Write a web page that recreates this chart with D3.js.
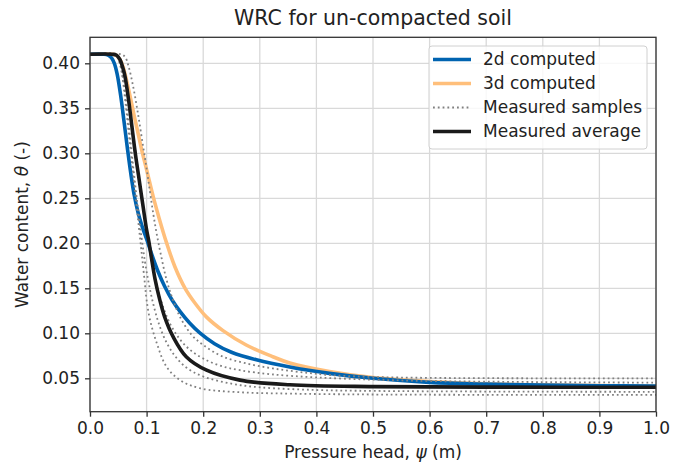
<!DOCTYPE html>
<html><head><meta charset="utf-8">
<script src="https://cdn.jsdelivr.net/npm/d3@7"></script>
<style>
body{margin:0;background:#fff;}
svg{display:block;font-family:"DejaVu Sans",sans-serif;}
</style></head>
<body><svg id="c" width="681" height="465"></svg>
<script>
// ---- data ----
const xTicks = [0.0,0.1,0.2,0.3,0.4,0.5,0.6,0.7,0.8,0.9,1.0];
const yTicks = [0.05,0.10,0.15,0.20,0.25,0.30,0.35,0.40];

const computed2d = [[0,0.41],[0.025,0.41],[0.032,0.409],[0.038,0.406],[0.043,0.400],[0.048,0.388],[0.054,0.365],[0.060,0.336],[0.066,0.306],[0.072,0.278],[0.078,0.254],[0.085,0.234],[0.093,0.217],[0.101,0.203],[0.11,0.186],[0.12,0.169],[0.132,0.152],[0.145,0.137],[0.16,0.1235],[0.176,0.1115],[0.194,0.1005],[0.22,0.0885],[0.25,0.079],[0.294,0.0705],[0.353,0.0625],[0.423,0.0555],[0.5,0.050],[0.6,0.0455],[0.7,0.0435],[0.8,0.0424],[0.9,0.0418],[1.0,0.0413]];

const computed3d = [[0,0.41],[0.04,0.41],[0.046,0.409],[0.052,0.405],[0.058,0.397],[0.065,0.38],[0.072,0.36],[0.078,0.342],[0.085,0.322],[0.092,0.302],[0.098,0.287],[0.103,0.274],[0.112,0.251],[0.123,0.226],[0.135,0.201],[0.15,0.174],[0.168,0.15],[0.185,0.134],[0.206,0.118],[0.235,0.103],[0.276,0.087],[0.323,0.074],[0.353,0.067],[0.423,0.0575],[0.5,0.0508],[0.6,0.0465],[0.7,0.044],[0.8,0.0427],[0.9,0.042],[1.0,0.0415]];

const sample1 = [[0,0.41],[0.045,0.41],[0.05,0.405],[0.056,0.39],[0.062,0.36],[0.068,0.325],[0.074,0.29],[0.08,0.255],[0.086,0.22],[0.092,0.185],[0.097,0.155],[0.1,0.137],[0.106,0.115],[0.118,0.089],[0.135,0.063],[0.159,0.048],[0.194,0.039],[0.265,0.0345],[0.353,0.033],[0.5,0.032],[1.0,0.0315]];
const sample2 = [[0,0.41],[0.042,0.41],[0.049,0.406],[0.055,0.395],[0.061,0.372],[0.067,0.34],[0.073,0.305],[0.079,0.27],[0.085,0.237],[0.091,0.207],[0.097,0.18],[0.104,0.155],[0.112,0.132],[0.122,0.11],[0.135,0.09],[0.15,0.075],[0.17,0.062],[0.2,0.052],[0.25,0.044],[0.3,0.04],[0.4,0.037],[0.5,0.036],[0.7,0.0353],[1.0,0.035]];
const sample3 = [[0,0.41],[0.045,0.41],[0.052,0.406],[0.058,0.395],[0.064,0.375],[0.07,0.35],[0.077,0.318],[0.084,0.285],[0.091,0.252],[0.098,0.222],[0.105,0.195],[0.112,0.17],[0.12,0.148],[0.13,0.128],[0.142,0.11],[0.158,0.094],[0.176,0.082],[0.2,0.072],[0.23,0.064],[0.265,0.059],[0.32,0.0545],[0.4,0.051],[0.5,0.0485],[0.6,0.047],[0.8,0.0458],[1.0,0.0452]];
const sample4 = [[0,0.41],[0.055,0.41],[0.062,0.407],[0.068,0.397],[0.076,0.375],[0.084,0.347],[0.092,0.315],[0.1,0.283],[0.106,0.257],[0.112,0.232],[0.118,0.21],[0.126,0.185],[0.135,0.16],[0.145,0.14],[0.16,0.117],[0.18,0.098],[0.2,0.087],[0.235,0.074],[0.28,0.066],[0.323,0.061],[0.37,0.057],[0.423,0.0537],[0.5,0.0515],[0.6,0.0505],[0.8,0.050],[1.0,0.050]];
const samples = [sample1, sample2, sample3, sample4];

const average = [[0,0.41],[0.04,0.41],[0.047,0.409],[0.053,0.404],[0.058,0.395],[0.062,0.385],[0.068,0.36],[0.074,0.33],[0.08,0.30],[0.087,0.27],[0.094,0.24],[0.1,0.215],[0.104,0.202],[0.108,0.186],[0.115,0.16],[0.123,0.138],[0.132,0.118],[0.147,0.096],[0.17,0.074],[0.206,0.059],[0.265,0.048],[0.353,0.0428],[0.5,0.0408],[0.7,0.0402],[1.0,0.040]];

const legendLabels = ["2d computed","3d computed","Measured samples","Measured average"];

// ---- layout ----
const svg = d3.select("#c");
const L = 90, R = 656, T = 37.3, B = 411.7;
const x = d3.scaleLinear().domain([0,1]).range([L,R]);
const y = d3.scaleLinear().domain([0.0129,0.4289]).range([B,T]);

svg.append("rect").attr("width",681).attr("height",465).attr("fill","#fff");

// grid
const g = svg.append("g");
g.selectAll(".gx").data(xTicks).enter().append("line")
  .attr("x1",d=>x(d)).attr("x2",d=>x(d)).attr("y1",T).attr("y2",B)
  .attr("stroke","#d9d9d9").attr("stroke-width",1.3);
g.selectAll(".gy").data(yTicks).enter().append("line")
  .attr("y1",d=>y(d)).attr("y2",d=>y(d)).attr("x1",L).attr("x2",R)
  .attr("stroke","#d9d9d9").attr("stroke-width",1.3);

svg.append("clipPath").attr("id","clip").append("rect")
  .attr("x",L).attr("y",T).attr("width",R-L).attr("height",B-T);

const line = d3.line().x(d=>x(d[0])).y(d=>y(d[1])).curve(d3.curveCatmullRom.alpha(0.5));
const plot = svg.append("g").attr("clip-path","url(#clip)");

plot.append("path").datum(computed3d).attr("d",line).attr("fill","none")
  .attr("stroke","#ffbf7b").attr("stroke-width",3.6).attr("stroke-linejoin","round");
plot.append("path").datum(computed2d).attr("d",line).attr("fill","none")
  .attr("stroke","#0063b0").attr("stroke-width",3.6).attr("stroke-linejoin","round");
plot.selectAll(".s").data(samples).enter().append("path")
  .attr("d",line).attr("fill","none").attr("stroke","#808080")
  .attr("stroke-width",1.8).attr("stroke-dasharray","1.8,3");
plot.append("path").datum(average).attr("d",line).attr("fill","none")
  .attr("stroke","#1a1a1a").attr("stroke-width",3.6).attr("stroke-linejoin","round");

// axes
const fs = 17;
const xa = svg.append("g").attr("transform",`translate(0,${B})`)
  .call(d3.axisBottom(x).tickValues(xTicks).tickFormat(d3.format(".1f")).tickSizeOuter(0).tickSize(5).tickPadding(5));
const ya = svg.append("g").attr("transform",`translate(${L},0)`)
  .call(d3.axisLeft(y).tickValues(yTicks).tickFormat(d3.format(".2f")).tickSizeOuter(0).tickSize(5).tickPadding(5));
[xa,ya].forEach(a=>{
  a.select(".domain").remove();
  a.selectAll("line").attr("stroke","#333").attr("stroke-width",1.3);
  a.selectAll("text").attr("fill","#222").style("font-size",fs+"px").style("font-family","DejaVu Sans");
});
// spines
svg.append("rect").attr("x",L).attr("y",T).attr("width",R-L).attr("height",B-T)
  .attr("fill","none").attr("stroke","#333").attr("stroke-width",1.3);

// title and labels
svg.append("text").attr("x",(L+R)/2).attr("y",25).attr("text-anchor","middle")
  .style("font-size","20.5px").attr("fill","#222").text("WRC for un-compacted soil");
const xl = svg.append("text").attr("x",(L+R)/2).attr("y",458).attr("text-anchor","middle")
  .style("font-size",fs+"px").attr("fill","#222");
xl.append("tspan").text("Pressure head, ");
xl.append("tspan").style("font-style","italic").text("ψ");
xl.append("tspan").text(" (m)");
const yl = svg.append("text").attr("transform",`translate(28,${(T+B)/2}) rotate(-90)`).attr("text-anchor","middle")
  .style("font-size",fs+"px").attr("fill","#222");
yl.append("tspan").text("Water content, ");
yl.append("tspan").style("font-style","italic").text("θ");
yl.append("tspan").text(" (-)");

// legend
const lg = svg.append("g");
lg.append("rect").attr("x",429).attr("y",46).attr("width",218).attr("height",103).attr("rx",3)
  .attr("fill","#fff").attr("fill-opacity",0.8).attr("stroke","#d0d0d0").attr("stroke-width",1);
const styles = [
  {c:"#0063b0",w:3.6,d:null},
  {c:"#ffbf7b",w:3.6,d:null},
  {c:"#808080",w:1.8,d:"1.8,3"},
  {c:"#1a1a1a",w:3.6,d:null}
];
legendLabels.forEach((t,i)=>{
  const yy = 59.5 + i*24;
  const ln = lg.append("line").attr("x1",433).attr("x2",471).attr("y1",yy).attr("y2",yy)
    .attr("stroke",styles[i].c).attr("stroke-width",styles[i].w);
  if(styles[i].d) ln.attr("stroke-dasharray",styles[i].d);
  lg.append("text").attr("x",483).attr("y",yy).attr("dy","0.35em")
    .style("font-size",fs+"px").attr("fill","#222").text(t);
});
</script></body></html>
